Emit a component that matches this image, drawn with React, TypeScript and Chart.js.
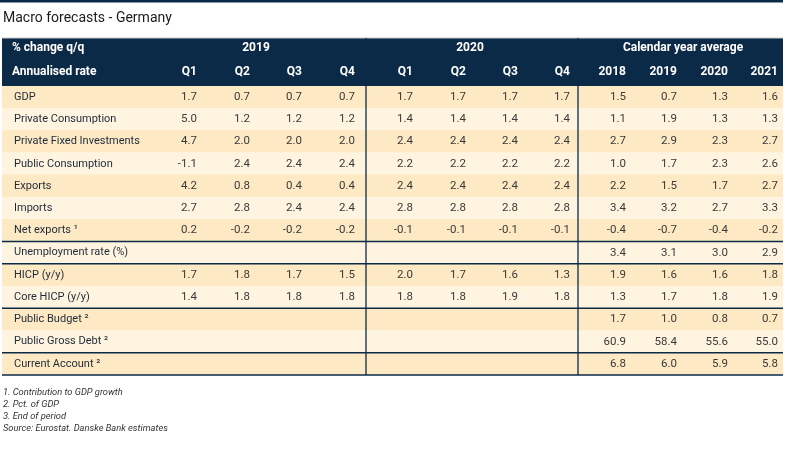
import React, { useEffect, useRef } from "react";
import { Chart, registerables } from "chart.js";

Chart.register(...registerables);

// ---------- data ----------
const TITLE = "Macro forecasts - Germany";
const HEADER_LEFT = ["% change q/q", "Annualised rate"];
const GROUPS = ["2019", "2020", "Calendar year average"];
const QUARTERS = ["Q1", "Q2", "Q3", "Q4"];
const YEARS = ["2018", "2019", "2020", "2021"];

const ROW_LABELS = [
  "GDP",
  "Private Consumption",
  "Private Fixed Investments",
  "Public Consumption",
  "Exports",
  "Imports",
  "Net exports \u00B9",
  "Unemployment rate (%)",
  "HICP (y/y)",
  "Core HICP (y/y)",
  "Public Budget \u00B2",
  "Public Gross Debt \u00B2",
  "Current Account \u00B2",
];

// each: 2019 Q1..Q4, 2020 Q1..Q4, calendar 2018..2021
const gdp = [1.7, 0.7, 0.7, 0.7, 1.7, 1.7, 1.7, 1.7, 1.5, 0.7, 1.3, 1.6];
const privateConsumption = [5.0, 1.2, 1.2, 1.2, 1.4, 1.4, 1.4, 1.4, 1.1, 1.9, 1.3, 1.3];
const privateFixedInvestments = [4.7, 2.0, 2.0, 2.0, 2.4, 2.4, 2.4, 2.4, 2.7, 2.9, 2.3, 2.7];
const publicConsumption = [-1.1, 2.4, 2.4, 2.4, 2.2, 2.2, 2.2, 2.2, 1.0, 1.7, 2.3, 2.6];
const exportsRow = [4.2, 0.8, 0.4, 0.4, 2.4, 2.4, 2.4, 2.4, 2.2, 1.5, 1.7, 2.7];
const importsRow = [2.7, 2.8, 2.4, 2.4, 2.8, 2.8, 2.8, 2.8, 3.4, 3.2, 2.7, 3.3];
const netExports = [0.2, -0.2, -0.2, -0.2, -0.1, -0.1, -0.1, -0.1, -0.4, -0.7, -0.4, -0.2];
const unemployment = [null, null, null, null, null, null, null, null, 3.4, 3.1, 3.0, 2.9];
const hicp = [1.7, 1.8, 1.7, 1.5, 2.0, 1.7, 1.6, 1.3, 1.9, 1.6, 1.6, 1.8];
const coreHicp = [1.4, 1.8, 1.8, 1.8, 1.8, 1.8, 1.9, 1.8, 1.3, 1.7, 1.8, 1.9];
const publicBudget = [null, null, null, null, null, null, null, null, 1.7, 1.0, 0.8, 0.7];
const publicGrossDebt = [null, null, null, null, null, null, null, null, 60.9, 58.4, 55.6, 55.0];
const currentAccount = [null, null, null, null, null, null, null, null, 6.8, 6.0, 5.9, 5.8];

const FOOTNOTES = [
  "1. Contribution to GDP growth",
  "2. Pct. of GDP",
  "3. End of period",
  "Source: Eurostat. Danske Bank estimates",
];

// ---------- layout / style ----------
const ROWS = [
  gdp, privateConsumption, privateFixedInvestments, publicConsumption, exportsRow,
  importsRow, netExports, unemployment, hicp, coreHicp, publicBudget, publicGrossDebt, currentAccount,
];
const W = 803;
const H = 456;
const X_MAX = 781; // x units span the table width
const COL_RIGHT = [195, 248, 300, 353, 411, 464, 516, 568, 624, 675, 726, 776];
const GROUP_CENTER = [254, 468, 681];
const LABEL_X = 12;
const SEP_X = [364, 576];
const LINE_AFTER = [6, 7, 9, 11, 12];
const NAVY = "#0b2a48";
const DARK_ROW = "#fde9c3";
const LIGHT_ROW = "#fef4df";
const FONT = "Roboto, 'DejaVu Sans', sans-serif";
const HEADER_H = 48;

const tablePlugin = {
  id: "tablePlugin",
  afterDatasetsDraw(chart: any) {
    const ctx = chart.ctx as CanvasRenderingContext2D;
    const xs = chart.scales.x;
    const ys = chart.scales.y;
    const area = chart.chartArea;
    const left = xs.getPixelForValue(0);
    const right = xs.getPixelForValue(X_MAX);
    const headTop = area.top - HEADER_H;
    ctx.save();

    // top bar
    ctx.fillStyle = NAVY;
    ctx.fillRect(0, 0, right, 2.5);

    // title
    ctx.fillStyle = "#1a1a1a";
    ctx.font = `14px ${FONT}`;
    ctx.textBaseline = "alphabetic";
    ctx.textAlign = "left";
    ctx.fillText(TITLE, 3, 21.5);

    // header block
    ctx.fillStyle = NAVY;
    ctx.fillRect(left, headTop, right - left, HEADER_H);
    ctx.fillStyle = "#c9c9c9";
    ctx.fillRect(left, headTop - 0.5, right - left, 1);

    const r1 = headTop + 10;
    const r2 = headTop + 34;
    ctx.fillStyle = "#ffffff";
    ctx.font = `bold 12px ${FONT}`;
    ctx.textBaseline = "middle";
    ctx.textAlign = "left";
    ctx.fillText(HEADER_LEFT[0], xs.getPixelForValue(LABEL_X) - 2, r1);
    ctx.fillText(HEADER_LEFT[1], xs.getPixelForValue(LABEL_X) - 2, r2);
    ctx.textAlign = "center";
    GROUPS.forEach((g, i) => ctx.fillText(g, xs.getPixelForValue(GROUP_CENTER[i]), r1));
    ctx.textAlign = "right";
    const subHeads = [...QUARTERS, ...QUARTERS, ...YEARS];
    subHeads.forEach((s, i) => ctx.fillText(s, xs.getPixelForValue(COL_RIGHT[i]), r2));

    // row labels and values
    ROW_LABELS.forEach((label, ri) => {
      const y = ys.getPixelForValue(ri);
      ctx.fillStyle = "#1e2a3a";
      ctx.font = `11px ${FONT}`;
      ctx.textAlign = "left";
      ctx.fillText(label, xs.getPixelForValue(LABEL_X), y);
      ctx.fillStyle = "#3a3a3a";
      ctx.font = `11.5px ${FONT}`;
      ctx.textAlign = "right";
      ROWS[ri].forEach((v, ci) => {
        if (v === null || v === undefined) return;
        ctx.fillText((v as number).toFixed(1), xs.getPixelForValue(COL_RIGHT[ci]), y);
      });
    });

    // separators
    ctx.strokeStyle = NAVY;
    ctx.lineWidth = 1.5;
    const step = ys.getPixelForValue(1) - ys.getPixelForValue(0);
    LINE_AFTER.forEach((ri) => {
      const y = ys.getPixelForValue(ri) + step / 2;
      ctx.beginPath();
      ctx.moveTo(left, y);
      ctx.lineTo(right, y);
      ctx.stroke();
    });
    ctx.lineWidth = 1.3;
    SEP_X.forEach((sx) => {
      const x = xs.getPixelForValue(sx);
      ctx.beginPath();
      ctx.moveTo(x, headTop);
      ctx.lineTo(x, area.bottom);
      ctx.stroke();
    });

    // footnotes
    ctx.fillStyle = "#333333";
    ctx.font = `italic 9.3px ${FONT}`;
    ctx.textAlign = "left";
    ctx.textBaseline = "middle";
    FOOTNOTES.forEach((f, i) => ctx.fillText(f, 3, area.bottom + 18 + i * 12));

    ctx.restore();
  },
};

export default function App() {
  const ref = useRef<HTMLCanvasElement | null>(null);

  useEffect(() => {
    document.body.style.margin = "0";
    const canvas = ref.current;
    if (!canvas) return;
    const chart = new Chart(canvas, {
      type: "bar",
      data: {
        labels: ROW_LABELS,
        datasets: [
          {
            data: ROW_LABELS.map(() => [0, X_MAX]) as any,
            backgroundColor: ROW_LABELS.map((_, i) => (i % 2 === 0 ? DARK_ROW : LIGHT_ROW)),
            borderWidth: 0,
            barPercentage: 1,
            categoryPercentage: 1,
          },
        ],
      },
      options: {
        indexAxis: "y",
        responsive: false,
        animation: false,
        devicePixelRatio: 1,
        layout: { padding: { left: 2, right: W - 783, top: 86, bottom: H - 375 } },
        scales: {
          x: { type: "linear", min: 0, max: X_MAX, display: false },
          y: { type: "category", display: false },
        },
        plugins: {
          legend: { display: false },
          tooltip: { enabled: false },
          title: { display: false },
        },
      },
      plugins: [tablePlugin],
    });
    return () => chart.destroy();
  }, []);

  return (
    <div style={{ width: W, height: H, background: "#ffffff" }}>
      <canvas ref={ref} width={W} height={H} />
    </div>
  );
}
